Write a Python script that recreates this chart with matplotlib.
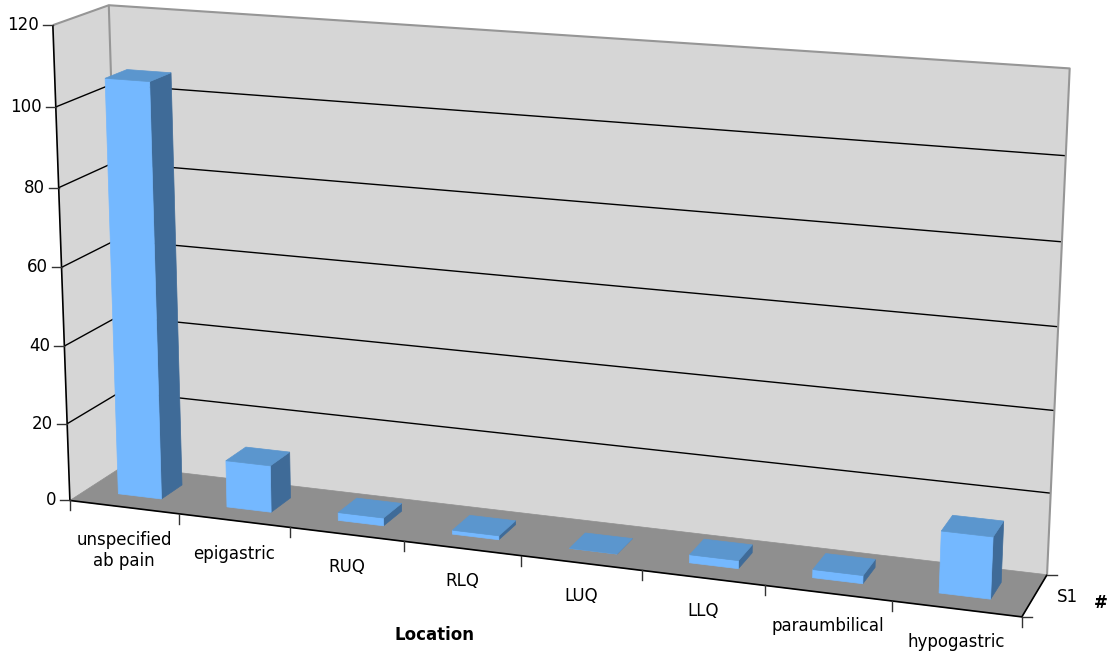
#!/usr/bin/env python3
"""3D column chart of abdominal pain location counts, with a projective camera."""

import numpy as np
import matplotlib
matplotlib.use("Agg")
import matplotlib.pyplot as plt
from matplotlib.patches import Polygon

# Chart data
LOCATIONS = ["unspecified\nab pain", "epigastric", "RUQ", "RLQ", "LUQ", "LLQ",
             "paraumbilical", "hypogastric"]
COUNTS = [106, 12, 2, 1, 0, 2, 2, 15]
Y_TICKS = [0, 20, 40, 60, 80, 100, 120]
Y_MAX = 120
SERIES = "S1"

# Camera calibration: (category, value, depth) -> figure pixel
WORLD = [(0, 0, 0), (0, 120, 0), (0, 100, 0), (0, 60, 0), (0, 20, 0),
         (0, 0, 1), (0, 120, 1),
         (8, 0, 1), (8, 120, 1), (8, 60, 1), (8, 0, 0),
         (1, 0, 0), (2, 0, 0), (4, 0, 0), (6, 0, 0)]
PIXEL = [(71, 500), (52, 26), (55.2, 107), (61, 266), (68, 423),
         (122, 467), (110, 5),
         (1047, 574), (1070, 69), (1058, 326), (1022, 617),
         (179, 514), (290, 528), (521, 556), (765, 586)]

# Colours
WALL = "#d6d6d6"
FLOOR = "#8f8f8f"
EDGE = "#969696"
FRONT = "#74b8ff"
TOP = "#5b96ce"
SIDE = "#3f6b98"


def fit_camera(world, pixel):
    """Solve the 3x4 projection matrix by least squares."""
    rows, rhs = [], []
    for (x, y, z), (u, v) in zip(world, pixel):
        rows.append([x, y, z, 1, 0, 0, 0, 0, -u * x, -u * y, -u * z])
        rows.append([0, 0, 0, 0, x, y, z, 1, -v * x, -v * y, -v * z])
        rhs += [u, v]
    h = np.linalg.lstsq(np.array(rows, float), np.array(rhs, float), rcond=None)[0]
    return np.append(h, 1.0).reshape(3, 4)


CAMERA = fit_camera(WORLD, PIXEL)


def project(x, y, z):
    """Map chart coordinates to figure pixels."""
    u, v, w = CAMERA @ np.array([x, y, z, 1.0])
    return u / w, v / w


def face(ax, points, color, zorder=1):
    ax.add_patch(Polygon([project(*p) for p in points], closed=True,
                         facecolor=color, edgecolor=color, linewidth=0.5,
                         zorder=zorder))


def line3d(ax, points, color, lw=1.0, zorder=2):
    px = [project(*p) for p in points]
    ax.plot([p[0] for p in px], [p[1] for p in px], color=color, lw=lw,
            zorder=zorder, solid_capstyle="butt")


def draw_bar(ax, i, value, zorder):
    # gap width and gap depth of 150% leave 40% of the cell for the column
    x0, x1 = i + 0.3, i + 0.7
    z0, z1 = 0.3, 0.7
    face(ax, [(x1, 0, z0), (x1, 0, z1), (x1, value, z1), (x1, value, z0)], SIDE, zorder)
    face(ax, [(x0, 0, z0), (x1, 0, z0), (x1, value, z0), (x0, value, z0)], FRONT, zorder)
    face(ax, [(x0, value, z0), (x1, value, z0), (x1, value, z1), (x0, value, z1)], TOP, zorder)


def main():
    fig = plt.figure(figsize=(11.14, 6.53), dpi=100)
    ax = fig.add_axes([0, 0, 1, 1])
    ax.set_xlim(0, 1114)
    ax.set_ylim(653, 0)
    ax.axis("off")

    n = len(LOCATIONS)

    # Walls and floor
    face(ax, [(0, 0, 0), (0, Y_MAX, 0), (0, Y_MAX, 1), (0, 0, 1)], WALL)
    face(ax, [(0, 0, 1), (0, Y_MAX, 1), (n, Y_MAX, 1), (n, 0, 1)], WALL)
    face(ax, [(0, 0, 0), (n, 0, 0), (n, 0, 1), (0, 0, 1)], FLOOR)

    # Gridlines run along the side wall and then the back wall
    for v in Y_TICKS[1:-1]:
        line3d(ax, [(0, v, 0), (0, v, 1), (n, v, 1)], "black", lw=1.0)

    # Wall outlines
    line3d(ax, [(0, Y_MAX, 0), (0, Y_MAX, 1), (n, Y_MAX, 1), (n, 0, 1)], EDGE, lw=1.5)
    line3d(ax, [(0, Y_MAX, 1), (0, 0, 1)], EDGE, lw=1.5)

    # Columns, left to right
    for i, value in enumerate(COUNTS):
        draw_bar(ax, i, value, zorder=3 + i)

    # Axis lines
    line3d(ax, [(0, Y_MAX, 0), (0, 0, 0), (n, 0, 0), (n, 0, 1)], "black", lw=1.2, zorder=20)

    # Value axis ticks and labels
    for v in Y_TICKS:
        u, w = project(0, v, 0)
        ax.plot([u - 10, u], [w, w], color="#333333", lw=1.0, zorder=20)
        ax.text(u - 14, w, str(v), ha="right", va="center", fontsize=12, color="black")

    # Category ticks and labels
    for i in range(n + 1):
        u, w = project(i, 0, 0)
        ax.plot([u, u], [w, w + 10], color="#333333", lw=1.0, zorder=20)
    for i, label in enumerate(LOCATIONS):
        u, w = project(i + 0.5, 0, 0)
        for j, part in enumerate(label.split("\n")):
            ax.text(u, w + 33 + 21 * j, part, ha="center", va="center", fontsize=12,
                    color="black")

    # Depth axis ticks and series label
    for z in (0, 1):
        u, w = project(n, 0, z)
        ax.plot([u, u + 10], [w, w], color="#333333", lw=1.0, zorder=20)
    u, w = project(n, 0, 0.5)
    ax.text(u + 33, w + 2, SERIES, ha="center", va="center", fontsize=12, color="black")

    # Axis titles
    ax.text(434, 635, "Location", ha="center", va="center", fontsize=12,
            fontweight="bold", color="black")
    ax.text(1101, 603, "#", ha="center", va="center", fontsize=12,
            fontweight="bold", color="black")

    fig.savefig("out.png", dpi=100, facecolor="white")


if __name__ == "__main__":
    main()
